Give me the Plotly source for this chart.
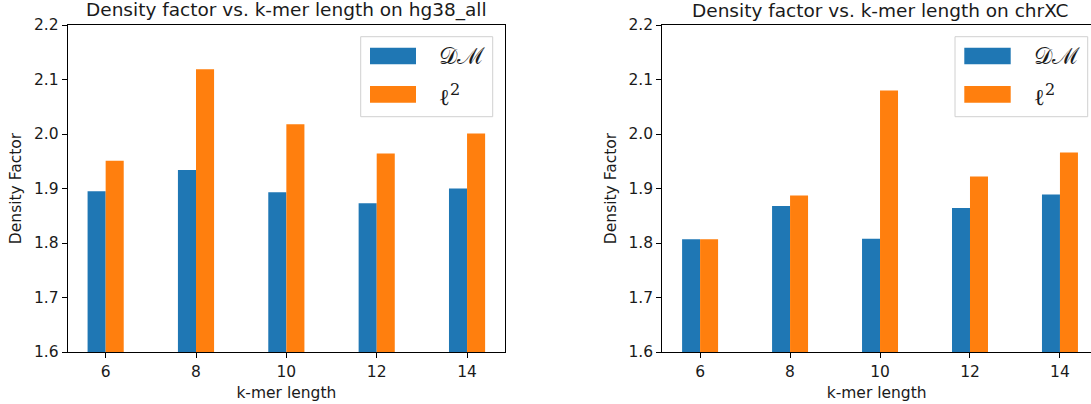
import plotly.graph_objects as go

# k-mer lengths on the x axis
kmer_lengths = [6, 8, 10, 12, 14]

# density factors on hg38_all
hg38_dm = [1.895, 1.934, 1.893, 1.873, 1.900]
hg38_l2 = [1.951, 2.119, 2.018, 1.964, 2.001]

# density factors on chrXC
chrxc_dm = [1.807, 1.868, 1.808, 1.864, 1.889]
chrxc_l2 = [1.807, 1.887, 2.080, 1.922, 1.966]

y_ticks = [1.6, 1.7, 1.8, 1.9, 2.0, 2.1, 2.2]

series_names = ["𝒟ℳ", "ℓ<sup>2</sup>"]
panel_titles = [
    "Density factor vs. k-mer length on hg38_all",
    "Density factor vs. k-mer length on chrXC",
]
x_title = "k-mer length"
y_title = "Density Factor"

W, H = 1091, 404
BLUE = "#1f77b4"
ORANGE = "#ff7f0e"
FONT = "DejaVu Sans"
TEXT = "#1a1a1a"


def px(x):
    return x / W


def py(y):
    return 1 - y / H


fig = go.Figure()

panels = [
    ("x", "y", hg38_dm, hg38_l2),
    ("x2", "y2", chrxc_dm, chrxc_l2),
]
for xa, ya, dm, l2 in panels:
    fig.add_trace(go.Bar(x=kmer_lengths, y=dm, width=0.4, offset=-0.4,
                         marker=dict(color=BLUE, line=dict(width=0)),
                         name=series_names[0], xaxis=xa, yaxis=ya,
                         showlegend=False))
    fig.add_trace(go.Bar(x=kmer_lengths, y=l2, width=0.4, offset=0.0,
                         marker=dict(color=ORANGE, line=dict(width=0)),
                         name=series_names[1], xaxis=xa, yaxis=ya,
                         showlegend=False))

axis_common = dict(
    showgrid=False, zeroline=False, showline=True, linecolor="black",
    linewidth=1.1, ticks="outside", ticklen=5, tickwidth=1.1,
    tickcolor="black", tickfont=dict(family=FONT, size=15.5, color=TEXT),
    automargin=False,
)
x_title_cfg = dict(text=x_title, standoff=7,
                   font=dict(family=FONT, size=15.5, color=TEXT))
y_title_cfg = dict(text=y_title, standoff=8,
                   font=dict(family=FONT, size=15.5, color=TEXT))

left_dom = [px(67.7), px(505)]
right_dom = [px(662.3), 1.0]
y_dom = [py(352), py(25)]

fig.update_layout(
    width=W, height=H,
    margin=dict(l=0, r=0, t=0, b=0, pad=0),
    paper_bgcolor="white", plot_bgcolor="white",
    barmode="overlay",
    showlegend=False,
    xaxis=dict(domain=left_dom, range=[5.16, 14.84], tickvals=kmer_lengths,
               mirror=True, anchor="y", title=x_title_cfg, **axis_common),
    yaxis=dict(domain=y_dom, range=[1.6, 2.2], tickvals=y_ticks,
               tickformat=".1f", mirror=True, anchor="x", title=y_title_cfg,
               **axis_common),
    xaxis2=dict(domain=right_dom, range=[5.16, 14.69], tickvals=kmer_lengths,
                mirror=True, anchor="y2", title=x_title_cfg, **axis_common),
    yaxis2=dict(domain=y_dom, range=[1.6, 2.2], tickvals=y_ticks,
                tickformat=".1f", mirror=False, anchor="x2",
                title=y_title_cfg, **axis_common),
)

annotations = []
shapes = []

# panel titles
for title, cx in [(panel_titles[0], 286), (panel_titles[1], 880)]:
    annotations.append(dict(text=title, x=px(cx), y=py(10), xref="paper",
                            yref="paper", showarrow=False, xanchor="center",
                            yanchor="middle",
                            font=dict(family=FONT, size=18.5, color=TEXT)))

# legend boxes drawn in the upper right of each panel
for box_x0, box_x1, h_x0, h_x1, t_x in [(360.7, 492.7, 370, 416, 436.7),
                                        (955, 1087.7, 964.3, 1010.7, 1031.7)]:
    shapes.append(dict(type="rect", xref="paper", yref="paper",
                       x0=px(box_x0), x1=px(box_x1), y0=py(116.7), y1=py(36.7),
                       line=dict(color="#d0d0d0", width=1),
                       fillcolor="rgba(255,255,255,0.8)", layer="above"))
    for (hy0, hy1, ty), color, name in zip([(47.7, 64.3, 56), (86, 102.7, 95)],
                                           [BLUE, ORANGE], series_names):
        shapes.append(dict(type="rect", xref="paper", yref="paper",
                           x0=px(h_x0), x1=px(h_x1), y0=py(hy1), y1=py(hy0),
                           line=dict(width=0), fillcolor=color, layer="above"))
        annotations.append(dict(text=name, x=px(t_x), y=py(ty), xref="paper",
                                yref="paper", showarrow=False, xanchor="left",
                                yanchor="middle",
                                font=dict(family="DejaVu Serif", size=23,
                                          color=TEXT)))

fig.update_layout(annotations=annotations, shapes=shapes)

fig.write_html("out.html")
